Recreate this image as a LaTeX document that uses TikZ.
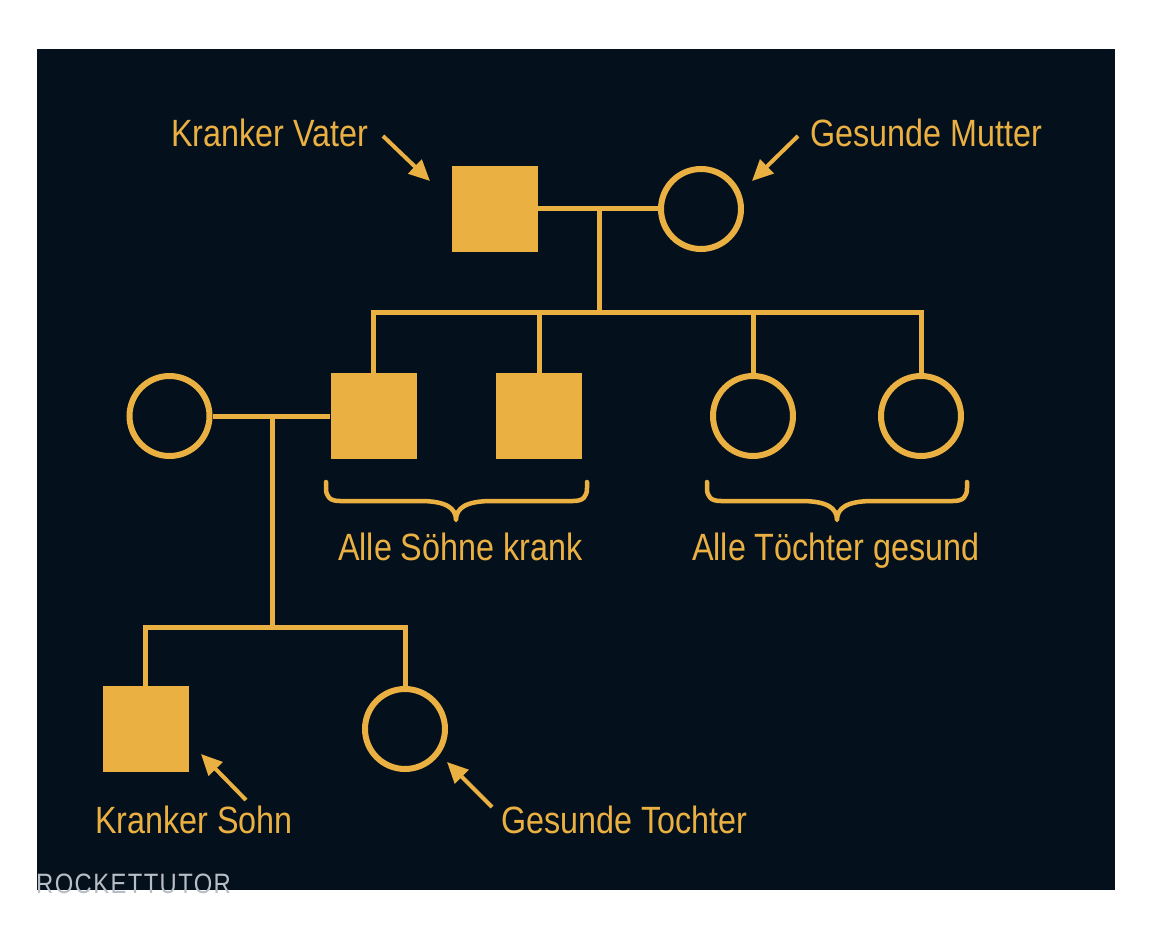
\documentclass[tikz,border=0pt]{standalone}
\usepackage{fontspec}
\setmainfont{Liberation Sans}[FakeStretch=0.85]
\usetikzlibrary{arrows.meta}
\definecolor{bg}{HTML}{04111C}
\definecolor{gold}{HTML}{EBB042}
\definecolor{wm}{HTML}{B8BEC6}
\begin{document}
\begin{tikzpicture}[x=1pt,y=-1pt,
  male/.style={rectangle,fill=gold,minimum size=86pt,inner sep=0pt},
  female/.style={circle,draw=gold,line width=6pt,minimum size=80pt,inner sep=0pt},
  link/.style={draw=gold,line width=5pt},
  pointer/.style={draw=gold,line width=4pt,-{Triangle[length=21pt,width=19pt]}},
  bracepath/.style={draw=gold,line width=4.5pt,line cap=round,line join=round},
  lbl/.style={text=gold,font=\fontsize{38}{40}\selectfont,inner sep=0pt,anchor=base west}]
\useasboundingbox (0,0) rectangle (1152,928);
\fill[bg] (37,49) rectangle (1115,890);
% generation I
\node[male] (father) at (495,209) {};
\node[female] (mother) at (701,209) {};
% generation II
\node[female] (spouse) at (169.5,416) {};
\node[male] (son1) at (373.5,416) {};
\node[male] (son2) at (539,416) {};
\node[female] (dau1) at (753,416) {};
\node[female] (dau2) at (921,416) {};
% generation III
\node[male] (gson) at (145.5,729) {};
\node[female] (gdau) at (405,729) {};
% junction coordinates
\coordinate (fm) at (599,209);
\coordinate (sib) at (599,313);
\coordinate (sm) at (272,416);
\coordinate (gsib) at (272,627);
% connectors
\draw[link] (father.east) -- (mother.west);
\draw[link] (fm) -- (sib);
\draw[link] (son1.north) |- (sib) -| (dau2.north);
\draw[link] (son2.north) -- (son2.north |- sib);
\draw[link] (dau1.north) -- (dau1.north |- sib);
\draw[link] (spouse.east) -- (son1.west);
\draw[link] (sm) -- (gsib);
\draw[link] (gson.north) |- (gsib) -| (gdau.north);
% labels
\node[lbl] (tVater) at (171,147) {Kranker Vater};
\node[lbl] (tMutter) at (810,147) {Gesunde Mutter};
\node[lbl] (tSoehne) at (338,560) {Alle Söhne krank};
\node[lbl] (tToechter) at (692,560) {Alle Töchter gesund};
\node[lbl] (tSohn) at (95,833) {Kranker Sohn};
\node[lbl] (tTochter) at (501,833) {Gesunde Tochter};
% pointer arrows
\coordinate (aV1) at (383,136); \coordinate (aV2) at (430,181);
\coordinate (aM1) at (798,136); \coordinate (aM2) at (752,181);
\coordinate (aS1) at (246,800); \coordinate (aS2) at (201,754);
\coordinate (aT1) at (492,807); \coordinate (aT2) at (447,762);
\draw[pointer] (aV1) -- (aV2);
\draw[pointer] (aM1) -- (aM2);
\draw[pointer] (aS1) -- (aS2);
\draw[pointer] (aT1) -- (aT2);
% braces
\draw[bracepath] (326,482) -- (326,488) .. controls (326,497) and (330,501) .. (340,501)
  -- (420,501) .. controls (446,501) and (456,508) .. (456,520)
  .. controls (456,508) and (466,501) .. (492,501)
  -- (573,501) .. controls (583,501) and (587,497) .. (587,488) -- (587,482);
\draw[bracepath] (707,482) -- (707,488) .. controls (707,497) and (711,501) .. (721,501)
  -- (801,501) .. controls (827,501) and (837,508) .. (837,520)
  .. controls (837,508) and (847,501) .. (873,501)
  -- (953,501) .. controls (963,501) and (967,497) .. (967,488) -- (967,482);
% watermark
\node[text=wm,font=\fontsize{28}{29}\selectfont\addfontfeatures{LetterSpace=5},inner sep=0pt,anchor=base west] (wmark) at (36,893) {ROCKETTUTOR};
\end{tikzpicture}
\end{document}
